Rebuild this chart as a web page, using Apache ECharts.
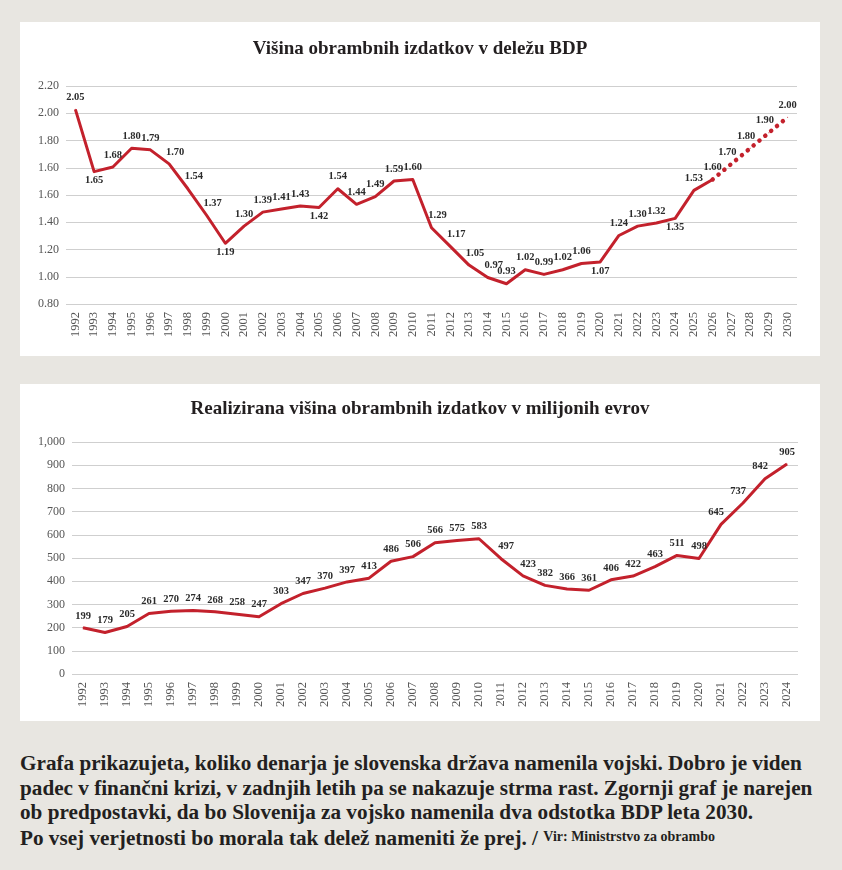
<!DOCTYPE html>
<html><head><meta charset="utf-8">
<script src="https://cdn.jsdelivr.net/npm/echarts@6/dist/echarts.min.js"></script>
<style>
html,body{margin:0;padding:0;background:#e8e6e1;width:842px;height:870px;overflow:hidden;}
.panel{position:absolute;left:20px;width:800px;background:#fff;}
#c1{top:22px;height:334px;}
#c2{top:384px;height:337px;}
#cap{position:absolute;left:20px;top:751px;width:822px;font-family:"Liberation Serif",serif;font-weight:bold;font-size:21.2px;line-height:24.6px;color:#231f20;white-space:nowrap;}
#cap .src{font-size:14px;vertical-align:4px;}
</style>
</head><body>
<div id="c1" class="panel"></div>
<div id="c2" class="panel"></div>
<div id="cap">Grafa prikazujeta, koliko denarja je slovenska država namenila vojski. Dobro je viden<br>padec v finančni krizi, v zadnjih letih pa se nakazuje strma rast. Zgornji graf je narejen<br>ob predpostavki, da bo Slovenija za vojsko namenila dva odstotka BDP leta 2030.<br>Po vsej verjetnosti bo morala tak delež nameniti že prej. / <span class="src">Vir: Ministrstvo za obrambo</span></div>
<script>
// ---- data ----
const gdpYears = ['1992','1993','1994','1995','1996','1997','1998','1999','2000','2001','2002','2003','2004','2005','2006','2007','2008','2009','2010','2011','2012','2013','2014','2015','2016','2017','2018','2019','2020','2021','2022','2023','2024','2025','2026','2027','2028','2029','2030'];
const gdpShare = [2.05,1.65,1.68,1.80,1.79,1.70,1.54,1.37,1.19,1.30,1.39,1.41,1.43,1.42,1.54,1.44,1.49,1.59,1.60,1.29,1.17,1.05,0.97,0.93,1.02,0.99,1.02,1.06,1.07,1.24,1.30,1.32,1.35,1.53,1.60,1.70,1.80,1.90,2.00];
const gdpProjectionFrom = '2026';
const gdpTickLabels = ['0.80','1.00','1.20','1.40','1.60','1.60','1.80','2.00','2.20'];
const gdpMin = 0.80, gdpMax = 2.20;

const eurYears = ['1992','1993','1994','1995','1996','1997','1998','1999','2000','2001','2002','2003','2004','2005','2006','2007','2008','2009','2010','2011','2012','2013','2014','2015','2016','2017','2018','2019','2020','2021','2022','2023','2024'];
const eurSpending = [199,179,205,261,270,274,268,258,247,303,347,370,397,413,486,506,566,575,583,497,423,382,366,361,406,422,463,511,498,645,737,842,905];
const eurTickLabels = ['0','100','200','300','400','500','600','700','800','900','1,000'];

// ---- styles (label placement) ----
const labelsBelowGdp = ['1993','2000','2005','2020','2024'];
const labelsRightGdp = ['1997','1998','1999','2011','2012','2013','2014'];
const labelsLeftGdp = ['2027','2028','2029'];
const labelsRightEur = ['2011','2012'];
const labelsLeftEur = ['2021','2022','2023'];
const RED = '#c3212c';
const SERIF = '"Liberation Serif", serif';
const axisLabelStyle = {fontFamily: SERIF, fontSize: 12, color: '#555'};
const dataLabelStyle = {fontFamily: SERIF, fontSize: 10.5, fontWeight: 'bold', color: '#2b2b2b'};
const titleStyle = {fontFamily: SERIF, fontSize: 19, fontWeight: 'bold', color: '#231f20'};
const gridLine = {show: true, lineStyle: {color: '#cfcfcf', width: 1.2}};

function gdpLabel(year) {
  const below = labelsBelowGdp.includes(year);
  let dx = 0;
  if (labelsRightGdp.includes(year)) dx = 6;
  if (labelsLeftGdp.includes(year)) dx = -4;
  return {position: below ? 'bottom' : 'top', distance: below ? 3 : 6, offset: [dx, 0]};
}

// ---- chart 1 ----
const projIdx = gdpYears.indexOf(gdpProjectionFrom);
const solidData = gdpShare.map((v, i) => i <= projIdx ? {value: v, label: gdpLabel(gdpYears[i])} : null);
const dottedData = gdpShare.map((v, i) => i >= projIdx ? {value: v, label: Object.assign({show: i > projIdx}, gdpLabel(gdpYears[i]))} : null);

const c1 = echarts.init(document.getElementById('c1'), null, {renderer: 'canvas'});
c1.setOption({
  animation: false,
  title: {text: 'Višina obrambnih izdatkov v deležu BDP', left: 'center', top: 13, textStyle: titleStyle},
  grid: {left: 46, right: 23, top: 64, bottom: 52, containLabel: false},
  xAxis: {type: 'category', data: gdpYears, boundaryGap: true,
    axisLine: {show: false}, axisTick: {show: false},
    axisLabel: Object.assign({rotate: 90, margin: 8, interval: 0}, axisLabelStyle, {fontSize: 12.5})},
  yAxis: [
    {type: 'value', min: 0, max: gdpTickLabels.length - 1, interval: 1,
      axisLine: {show: false}, axisTick: {show: false}, splitLine: gridLine,
      axisLabel: Object.assign({margin: 7, formatter: v => gdpTickLabels[v]}, axisLabelStyle)},
    {type: 'value', min: gdpMin, max: gdpMax, show: false, splitLine: {show: false}}
  ],
  series: [
    {type: 'line', yAxisIndex: 1, data: solidData, symbol: 'circle', symbolSize: 1, showSymbol: true,
      itemStyle: {color: RED}, lineStyle: {color: RED, width: 3, join: 'round'},
      label: Object.assign({show: true, formatter: p => p.value.toFixed(2)}, dataLabelStyle), z: 3},
    {type: 'line', yAxisIndex: 1, data: dottedData, symbol: 'circle', symbolSize: 1, showSymbol: true,
      itemStyle: {color: RED}, lineStyle: {color: RED, width: 4.5, type: [0.1, 7.5], cap: 'round'},
      label: Object.assign({show: true, formatter: p => p.value.toFixed(2)}, dataLabelStyle), z: 2}
  ]
});

// ---- chart 2 ----
const eurData = eurSpending.map((v, i) => {
  let dx = 0;
  if (labelsRightEur.includes(eurYears[i])) dx = 5;
  if (labelsLeftEur.includes(eurYears[i])) dx = -5;
  return {value: v, label: {offset: [dx, 0]}};
});
const c2 = echarts.init(document.getElementById('c2'), null, {renderer: 'canvas'});
c2.setOption({
  animation: false,
  title: {text: 'Realizirana višina obrambnih izdatkov v milijonih evrov', left: 'center', top: 11, textStyle: titleStyle},
  grid: {left: 52, right: 22, top: 58, bottom: 47, containLabel: false},
  xAxis: {type: 'category', data: eurYears, boundaryGap: true,
    axisLine: {show: false}, axisTick: {show: false},
    axisLabel: Object.assign({rotate: 90, margin: 8, interval: 0}, axisLabelStyle, {fontSize: 12.5})},
  yAxis: {type: 'value', min: 0, max: 1000, interval: 100,
    axisLine: {show: false}, axisTick: {show: false}, splitLine: gridLine,
    axisLabel: Object.assign({margin: 7, formatter: v => eurTickLabels[Math.round(v / 100)]}, axisLabelStyle)},
  series: [
    {type: 'line', data: eurData, symbol: 'circle', symbolSize: 1, showSymbol: true,
      itemStyle: {color: RED}, lineStyle: {color: RED, width: 3, join: 'round'},
      label: Object.assign({show: true, position: 'top', distance: 6}, dataLabelStyle)}
  ]
});
</script>
</body></html>
